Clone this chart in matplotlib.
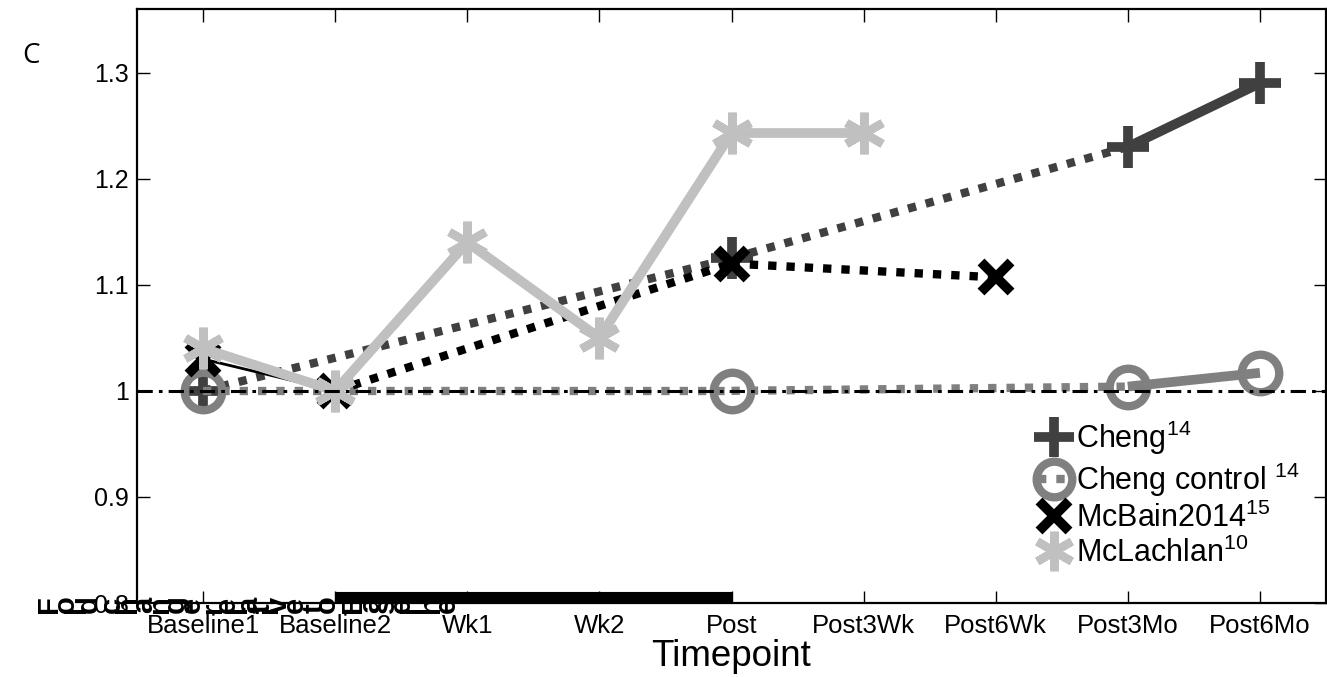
"""Normalised outcome across timepoints for the four studies."""

import matplotlib

matplotlib.use("Agg")
import matplotlib.pyplot as plt
import numpy as np
from matplotlib.lines import Line2D

plt.rcParams["font.family"] = ["Liberation Sans", "DejaVu Sans"]
plt.rcParams["mathtext.fontset"] = "custom"
plt.rcParams["mathtext.rm"] = "Liberation Sans"
plt.rcParams["mathtext.it"] = "Liberation Sans:italic"

timepoints = ["Baseline1", "Baseline2", "Wk1", "Wk2", "Post",
              "Post3Wk", "Post6Wk", "Post3Mo", "Post6Mo"]
nan = np.nan
cheng = [1.0, nan, nan, nan, 1.125, nan, nan, 1.23, 1.29]
cheng_control = [1.0, nan, nan, nan, 1.0, nan, nan, 1.004, 1.017]
mcbain = [1.03, 1.0, nan, nan, 1.12, nan, 1.107, nan, nan]
mclachlan = [1.04, 1.0, 1.14, 1.05, 1.243, 1.243, nan, nan, nan]

labels = ["Cheng$^{14}$", "Cheng control $^{14}$",
          "McBain2014$^{15}$", "McLachlan$^{10}$"]
ylabel_text = "Fold change relative to Baseline"
treatment = (2, 5)  # Baseline2 .. Post

styles = [
    dict(color="#404040", marker="+", ms=30, mew=7, mfc="none", solid_lw=7),
    dict(color="#808080", marker="o", ms=27, mew=6, mfc="none", solid_lw=7),
    dict(color="#000000", marker="x", ms=22, mew=7, mfc="none", solid_lw=2),
    dict(color="#c0c0c0", marker=(6, 2, 0), ms=30, mew=6, mfc="none", solid_lw=7),
]

W, H = 1327, 677
fig = plt.figure(figsize=(W / 100, H / 100), dpi=100)
ax = fig.add_axes([137 / W, 74 / H, 1189 / W, 594 / H])

x = np.arange(1, len(timepoints) + 1)


def draw_series(ax, values, st, z):
    vals = np.asarray(values, dtype=float)
    idx = np.where(~np.isnan(vals))[0]
    for a, b in zip(idx[:-1], idx[1:]):
        if b - a == 1:
            ax.plot(x[[a, b]], vals[[a, b]], color=st["color"], lw=st["solid_lw"],
                    solid_capstyle="butt", zorder=z)
        else:
            ax.plot(x[[a, b]], vals[[a, b]], color=st["color"], lw=6,
                    linestyle=(0, (1, 1.2)), dash_capstyle="butt", zorder=z)
    ax.plot(x[idx], vals[idx], linestyle="none", marker=st["marker"],
            ms=st["ms"], mew=st["mew"], mec=st["color"], mfc=st["mfc"],
            zorder=z + 0.5)


for i, (series, st) in enumerate(zip([cheng, cheng_control, mcbain, mclachlan], styles)):
    draw_series(ax, series, st, 2 + i)

# reference line at no change
ax.axhline(1.0, color="black", lw=2.2, linestyle=(0, (5, 2, 1.2, 2)), zorder=10)

# treatment period bar along the bottom
ax.plot(treatment, [0.8055, 0.8055], color="black", lw=8, solid_capstyle="butt",
        zorder=11, clip_on=False)

ax.set_xlim(0.5, len(timepoints) + 0.5)
ax.set_ylim(0.8, 1.36)
ax.set_xticks(x)
ax.set_xticklabels(timepoints, fontsize=18.5)
ax.set_yticks([0.8, 0.9, 1.0, 1.1, 1.2, 1.3])
ax.set_yticklabels(["0.8", "0.9", "1", "1.1", "1.2", "1.3"], fontsize=18)
ax.tick_params(direction="in", length=9, width=1, top=True, right=True, pad=6)
ax.tick_params(axis="x", pad=8)
for sp in ax.spines.values():
    sp.set_linewidth(1.6)
ax.set_xlabel("Timepoint", fontsize=26.5, labelpad=1)

handles = [
    Line2D([], [], color=st["color"], marker=st["marker"], ms=st["ms"] * 0.95,
           mew=st["mew"], mfc="none", linestyle=(0, (1, 1.2)) if i == 1 else "none",
           lw=6)
    for i, st in enumerate(styles)
]
ax.legend(handles, labels, loc="upper left", bbox_to_anchor=(0.758, 0.31),
          frameon=False, fontsize=22, handlelength=1.0, handletextpad=0.25,
          labelspacing=0.12, borderpad=0, borderaxespad=0)

# panel letter
fig.text(22 / W, 1 - 63 / H, "C", fontsize=20, family=["Open Sans", "DejaVu Sans"])

# y-axis label, characters set on their side along the bottom
renderer = fig.canvas.get_renderer()
px = 40
for ch in ylabel_text:
    probe = fig.text(0, 0, ch if ch != " " else "n", fontsize=21)
    adv = probe.get_window_extent(renderer).width
    probe.remove()
    if ch == " ":
        adv *= 0.5
    else:
        fig.text((px + adv / 2) / W, 1 - 613 / H, ch, rotation=90, fontsize=21,
                 ha="center", va="bottom", weight="bold")
    px += adv

fig.savefig("out.png", dpi=100)
